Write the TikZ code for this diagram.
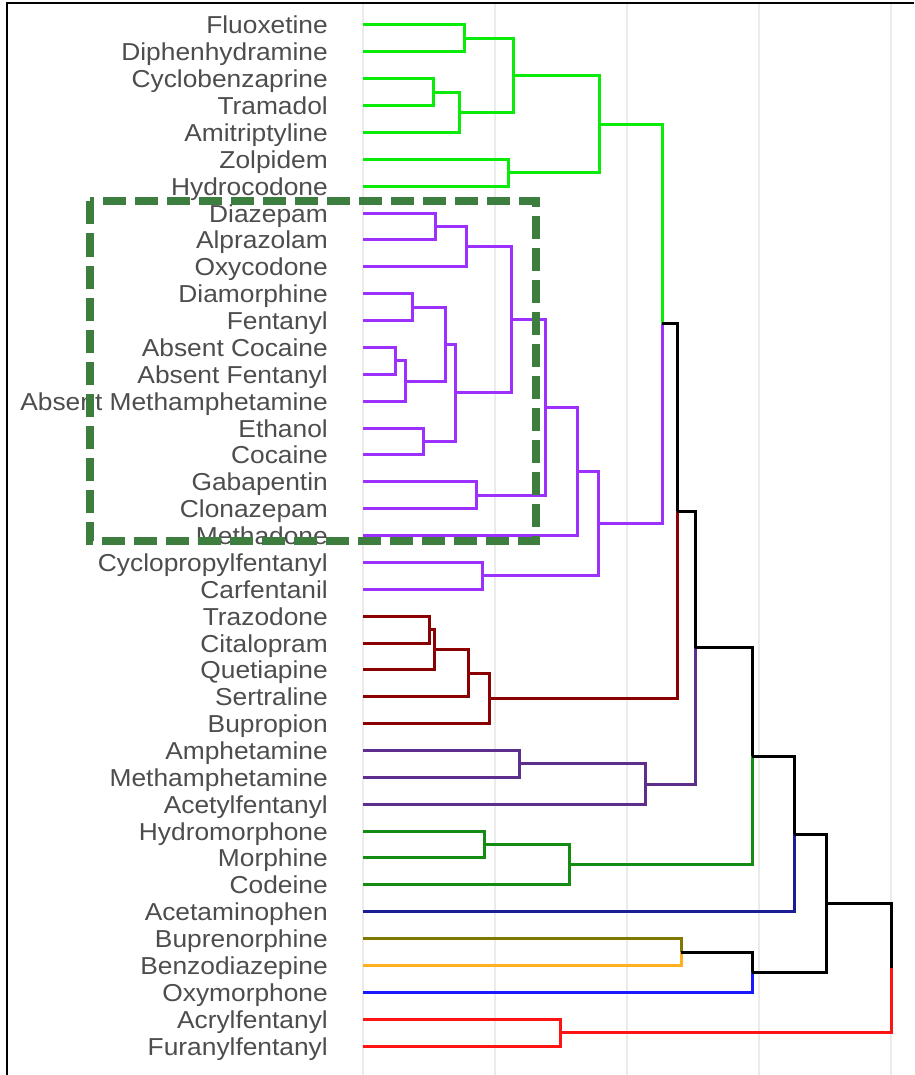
\documentclass[tikz,border=0pt]{standalone}
\usepackage{fontspec}
\setmainfont{Liberation Sans}
\usetikzlibrary{positioning}
\definecolor{textC}{RGB}{77,77,77}
\definecolor{gridC}{RGB}{235,235,235}
\definecolor{grnC}{RGB}{10,235,10}
\definecolor{purC}{RGB}{155,48,255}
\definecolor{dredC}{RGB}{139,0,0}
\definecolor{indC}{RGB}{93,46,140}
\definecolor{dgrnC}{RGB}{20,140,20}
\definecolor{navyC}{RGB}{28,28,150}
\definecolor{oliveC}{RGB}{128,120,0}
\definecolor{orangeC}{RGB}{255,176,32}
\definecolor{blueC}{RGB}{25,25,255}
\definecolor{redC}{RGB}{255,20,20}
\definecolor{boxC}{RGB}{61,125,61}

\begin{document}
\begin{tikzpicture}
  [x=1pt,y=-1pt,
   labelN/.style={font=\fontsize{24.5}{28}\selectfont,text=textC,inner sep=0pt,
     text height=22pt,text depth=4pt,xscale=1.075},
   branchE/.style={line width=3pt},
   greenE/.style={branchE,grnC},
   purpleE/.style={branchE,purC},
   dredE/.style={branchE,dredC},
   indigoE/.style={branchE,indC},
   dgreenE/.style={branchE,dgrnC},
   navyE/.style={branchE,navyC},
   oliveE/.style={branchE,oliveC},
   orangeE/.style={branchE,orangeC},
   blueE/.style={branchE,blueC},
   redE/.style={branchE,redC},
   blackE/.style={branchE,black},
   gridE/.style={line width=1.2pt,gridC},
   boxE/.style={line width=8pt,boxC,dash pattern=on 23pt off 9pt},
   node distance=26.87pt]

  \useasboundingbox (0,0) rectangle (914,1075);

  % grid and frame
  \draw[gridE] (363,4) -- (363,1075);
  \draw[gridE] (495,4) -- (495,1075);
  \draw[gridE] (627,4) -- (627,1075);
  \draw[gridE] (759,4) -- (759,1075);
  \draw[gridE] (891,4) -- (891,1075);
  \draw[line width=2pt] (7,1075) -- (7,3) -- (914,3);

  % leaves
  \coordinate (fluox) at (363,25);     \node[labelN,left=35pt of fluox] (fluoxT) {Fluoxetine};
  \coordinate[below=of fluox] (diphen);  \node[labelN,left=35pt of diphen] (diphenT) {Diphenhydramine};
  \coordinate[below=of diphen] (cyclob); \node[labelN,left=35pt of cyclob] (cyclobT) {Cyclobenzaprine};
  \coordinate[below=of cyclob] (tramad); \node[labelN,left=35pt of tramad] (tramadT) {Tramadol};
  \coordinate[below=of tramad] (amitri); \node[labelN,left=35pt of amitri] (amitriT) {Amitriptyline};
  \coordinate[below=of amitri] (zolpid); \node[labelN,left=35pt of zolpid] (zolpidT) {Zolpidem};
  \coordinate[below=of zolpid] (hydroc); \node[labelN,left=35pt of hydroc] (hydrocT) {Hydrocodone};
  \coordinate[below=of hydroc] (diazep); \node[labelN,left=35pt of diazep] (diazepT) {Diazepam};
  \coordinate[below=of diazep] (alpraz); \node[labelN,left=35pt of alpraz] (alprazT) {Alprazolam};
  \coordinate[below=of alpraz] (oxycod); \node[labelN,left=35pt of oxycod] (oxycodT) {Oxycodone};
  \coordinate[below=of oxycod] (diamor); \node[labelN,left=35pt of diamor] (diamorT) {Diamorphine};
  \coordinate[below=of diamor] (fentan); \node[labelN,left=35pt of fentan] (fentanT) {Fentanyl};
  \coordinate[below=of fentan] (abscoc); \node[labelN,left=35pt of abscoc] (abscocT) {Absent Cocaine};
  \coordinate[below=of abscoc] (absfen); \node[labelN,left=35pt of absfen] (absfenT) {Absent Fentanyl};
  \coordinate[below=of absfen] (absmet); \node[labelN,left=35pt of absmet] (absmetT) {Absent Methamphetamine};
  \coordinate[below=of absmet] (ethano); \node[labelN,left=35pt of ethano] (ethanoT) {Ethanol};
  \coordinate[below=of ethano] (cocain); \node[labelN,left=35pt of cocain] (cocainT) {Cocaine};
  \coordinate[below=of cocain] (gabape); \node[labelN,left=35pt of gabape] (gabapeT) {Gabapentin};
  \coordinate[below=of gabape] (clonaz); \node[labelN,left=35pt of clonaz] (clonazT) {Clonazepam};
  \coordinate[below=of clonaz] (methad); \node[labelN,left=35pt of methad] (methadT) {Methadone};
  \coordinate[below=of methad] (cyclop); \node[labelN,left=35pt of cyclop] (cyclopT) {Cyclopropylfentanyl};
  \coordinate[below=of cyclop] (carfen); \node[labelN,left=35pt of carfen] (carfenT) {Carfentanil};
  \coordinate[below=of carfen] (trazod); \node[labelN,left=35pt of trazod] (trazodT) {Trazodone};
  \coordinate[below=of trazod] (citalo); \node[labelN,left=35pt of citalo] (citaloT) {Citalopram};
  \coordinate[below=of citalo] (quetia); \node[labelN,left=35pt of quetia] (quetiaT) {Quetiapine};
  \coordinate[below=of quetia] (sertra); \node[labelN,left=35pt of sertra] (sertraT) {Sertraline};
  \coordinate[below=of sertra] (buprop); \node[labelN,left=35pt of buprop] (bupropT) {Bupropion};
  \coordinate[below=of buprop] (amphet); \node[labelN,left=35pt of amphet] (amphetT) {Amphetamine};
  \coordinate[below=of amphet] (metham); \node[labelN,left=35pt of metham] (methamT) {Methamphetamine};
  \coordinate[below=of metham] (acetyl); \node[labelN,left=35pt of acetyl] (acetylT) {Acetylfentanyl};
  \coordinate[below=of acetyl] (hydrom); \node[labelN,left=35pt of hydrom] (hydromT) {Hydromorphone};
  \coordinate[below=of hydrom] (morphi); \node[labelN,left=35pt of morphi] (morphiT) {Morphine};
  \coordinate[below=of morphi] (codein); \node[labelN,left=35pt of codein] (codeinT) {Codeine};
  \coordinate[below=of codein] (acetam); \node[labelN,left=35pt of acetam] (acetamT) {Acetaminophen};
  \coordinate[below=of acetam] (bupren); \node[labelN,left=35pt of bupren] (buprenT) {Buprenorphine};
  \coordinate[below=of bupren] (benzod); \node[labelN,left=35pt of benzod] (benzodT) {Benzodiazepine};
  \coordinate[below=of benzod] (oxymor); \node[labelN,left=35pt of oxymor] (oxymorT) {Oxymorphone};
  \coordinate[below=of oxymor] (acrylf); \node[labelN,left=35pt of acrylf] (acrylfT) {Acrylfentanyl};
  \coordinate[below=of acrylf] (furany); \node[labelN,left=35pt of furany] (furanyT) {Furanylfentanyl};

  % merge points
  \coordinate (g1) at (464,38.45);
  \coordinate (g2) at (433,92.15);
  \coordinate (g3) at (459,112.3);
  \coordinate (g4) at (513,75.4);
  \coordinate (g5) at (508,172.8);
  \coordinate (g6) at (599,124.1);
  \coordinate (p1) at (435,226.55);
  \coordinate (p2) at (466,246.7);
  \coordinate (p3) at (412,307.15);
  \coordinate (p4) at (395,360.85);
  \coordinate (p5) at (405,381.0);
  \coordinate (p6) at (445,344.1);
  \coordinate (p7) at (423,441.5);
  \coordinate (p8) at (455,392.8);
  \coordinate (p9) at (511,319.75);
  \coordinate (p10) at (476,495.25);
  \coordinate (p11) at (545,407.5);
  \coordinate (p12) at (577,471.5);
  \coordinate (p13) at (482,575.85);
  \coordinate (p14) at (598,523.7);
  \coordinate (r1) at (429,629.55);
  \coordinate (r2) at (434,649.7);
  \coordinate (r3) at (468,673.25);
  \coordinate (r4) at (489,698.4);
  \coordinate (v1) at (519,763.95);
  \coordinate (v2) at (645,784.1);
  \coordinate (d1) at (484,844.55);
  \coordinate (d2) at (569,864.7);
  \coordinate (b1) at (681,952.05);
  \coordinate (b2) at (752,972.2);
  \coordinate (e1) at (560,1032.65);
  \coordinate (a1) at (662,323.9);
  \coordinate (a2) at (677,511.2);
  \coordinate (a3) at (695,647.6);
  \coordinate (a4) at (752,756.2);
  \coordinate (a5) at (794,834.0);
  \coordinate (a6) at (826,903.1);
  \coordinate (root) at (891,967.9);

  % branches
  \draw[greenE] (fluox) -| (g1) (diphen) -| (g1);
  \draw[greenE] (cyclob) -| (g2) (tramad) -| (g2);
  \draw[greenE] (g2) -| (g3) (amitri) -| (g3);
  \draw[greenE] (g1) -| (g4) (g3) -| (g4);
  \draw[greenE] (zolpid) -| (g5) (hydroc) -| (g5);
  \draw[greenE] (g4) -| (g6) (g5) -| (g6);

  \draw[purpleE] (diazep) -| (p1) (alpraz) -| (p1);
  \draw[purpleE] (p1) -| (p2) (oxycod) -| (p2);
  \draw[purpleE] (diamor) -| (p3) (fentan) -| (p3);
  \draw[purpleE] (abscoc) -| (p4) (absfen) -| (p4);
  \draw[purpleE] (p4) -| (p5) (absmet) -| (p5);
  \draw[purpleE] (p3) -| (p6) (p5) -| (p6);
  \draw[purpleE] (ethano) -| (p7) (cocain) -| (p7);
  \draw[purpleE] (p6) -| (p8) (p7) -| (p8);
  \draw[purpleE] (p2) -| (p9) (p8) -| (p9);
  \draw[purpleE] (gabape) -| (p10) (clonaz) -| (p10);
  \draw[purpleE] (p9) -| (p11) (p10) -| (p11);
  \draw[purpleE] (p11) -| (p12) (methad) -| (p12);
  \draw[purpleE] (cyclop) -| (p13) (carfen) -| (p13);
  \draw[purpleE] (p12) -| (p14) (p13) -| (p14);

  \draw[dredE] (trazod) -| (r1) (citalo) -| (r1);
  \draw[dredE] (r1) -| (r2) (quetia) -| (r2);
  \draw[dredE] (r2) -| (r3) (sertra) -| (r3);
  \draw[dredE] (r3) -| (r4) (buprop) -| (r4);

  \draw[indigoE] (amphet) -| (v1) (metham) -| (v1);
  \draw[indigoE] (v1) -| (v2) (acetyl) -| (v2);

  \draw[dgreenE] (hydrom) -| (d1) (morphi) -| (d1);
  \draw[dgreenE] (d1) -| (d2) (codein) -| (d2);

  \draw[oliveE] (bupren) -| (b1);
  \draw[orangeE] (benzod) -| (b1);
  \draw[blueE] (oxymor) -| (b2);
  \draw[blackE] (b1) -| (b2);

  \draw[redE] (acrylf) -| (e1) (furany) -| (e1);

  \draw[greenE] (g6) -| (a1);
  \draw[purpleE] (p14) -| (a1);
  \draw[dredE] (r4) -| (a2);
  \draw[indigoE] (v2) -| (a3);
  \draw[dgreenE] (d2) -| (a4);
  \draw[navyE] (acetam) -| (a5);
  \draw[redE] (e1) -| (root);
  \draw[blackE] (a1) -| (a2) (a2) -| (a3) (a3) -| (a4) (a4) -| (a5);
  \draw[blackE] (a5) -| (a6) (b2) -| (a6) (a6) -| (root);

  % highlight box
  \draw[boxE] (89.5,201.5) rectangle (536,541);
\end{tikzpicture}
\end{document}
